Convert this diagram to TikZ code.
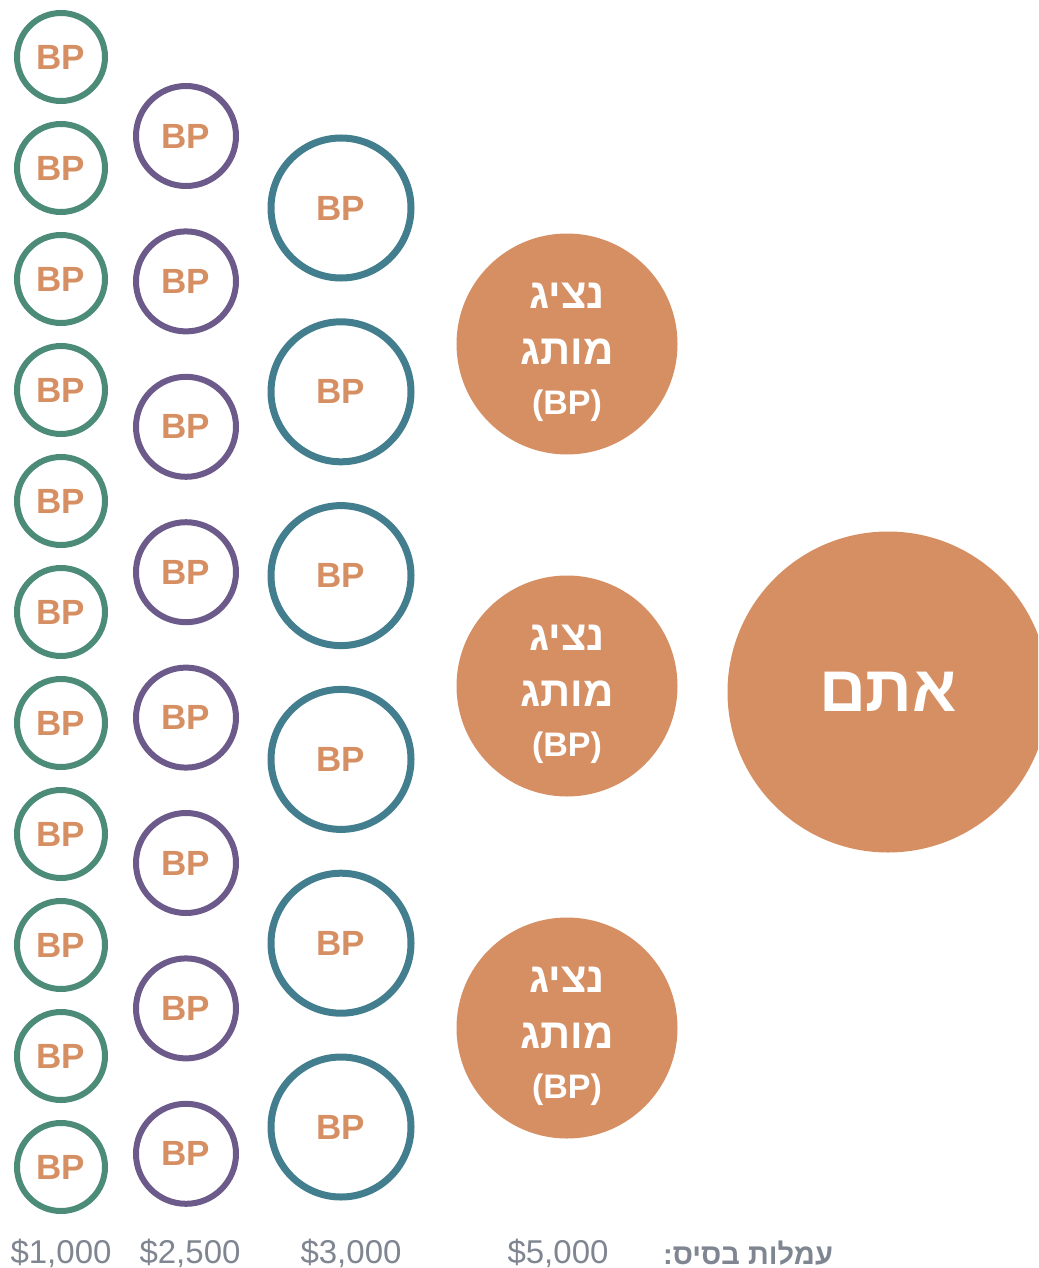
\documentclass[tikz,border=0pt]{standalone}
\usepackage{fontspec}
\setmainfont{Liberation Sans}
\newfontfamily\hebfont[Script=Hebrew]{Liberation Sans}
\TeXXeTstate=1
\usetikzlibrary{positioning}
\definecolor{bpgreen}{HTML}{4C8B78}
\definecolor{bppurple}{HTML}{6C5B8A}
\definecolor{bpteal}{HTML}{437E8F}
\definecolor{bporange}{HTML}{D68F63}
\definecolor{feegray}{HTML}{7F8691}

\begin{document}
\begin{tikzpicture}[x=1pt,y=-1pt,
  bp/.style={circle,inner sep=0pt,text=bporange,font=\fontsize{35}{35}\selectfont\bfseries},
  bpone/.style={bp,draw=bpgreen,line width=6pt,minimum size=88pt},
  bptwo/.style={bp,draw=bppurple,line width=6pt,minimum size=100pt},
  bpthree/.style={bp,draw=bpteal,line width=7pt,minimum size=140pt},
  brand/.style={circle,fill=bporange,inner sep=0pt,minimum size=221pt},
  brandtext/.style={inner sep=0pt,text=white,align=center,
    font=\fontsize{42}{56}\selectfont\bfseries\hebfont},
  fee/.style={text=feegray,font=\fontsize{33}{33}\selectfont,inner sep=0pt}]
\clip (0,0) rectangle (1038,1268);
% columns of BP circles
\foreach \i in {0,...,10}
  \node[bpone] (g\i) at (61,{57+111*\i}) {BP};
\foreach \i in {0,...,7}
  \node[bptwo] (p\i) at (186,{136+145.4*\i}) {BP};
\foreach \i in {0,...,5}
  \node[bpthree] (t\i) at (341,{208+183.8*\i}) {BP};
\foreach \i in {0,1,2}{
  \node[brand] (n\i) at (567,{344+342*\i}) {};
  \node[brandtext] (nt\i) at ([yshift=-8pt]n\i.center)
    {\beginR נציג\endR\\ \beginR מותג\endR\\[-6pt]{\fontsize{34}{34}\selectfont (BP)}};
}
\node[circle,fill=bporange,minimum size=321pt,inner sep=0pt,text=white,
  font=\fontsize{65}{65}\selectfont\bfseries\hebfont] (you) at (888,692) {\beginR אתם\endR};
% fees
\node[fee] (f1) at (61,1253) {\$1,000};
\node[fee] (f2) at (190,1253) {\$2,500};
\node[fee] (f3) at (351,1253) {\$3,000};
\node[fee] (f4) at (558,1253) {\$5,000};
\node[fee,font=\fontsize{29}{29}\selectfont\bfseries\hebfont] (fl) at (748,1253) {\beginR עמלות בסיס:\endR};
\end{tikzpicture}
\end{document}
